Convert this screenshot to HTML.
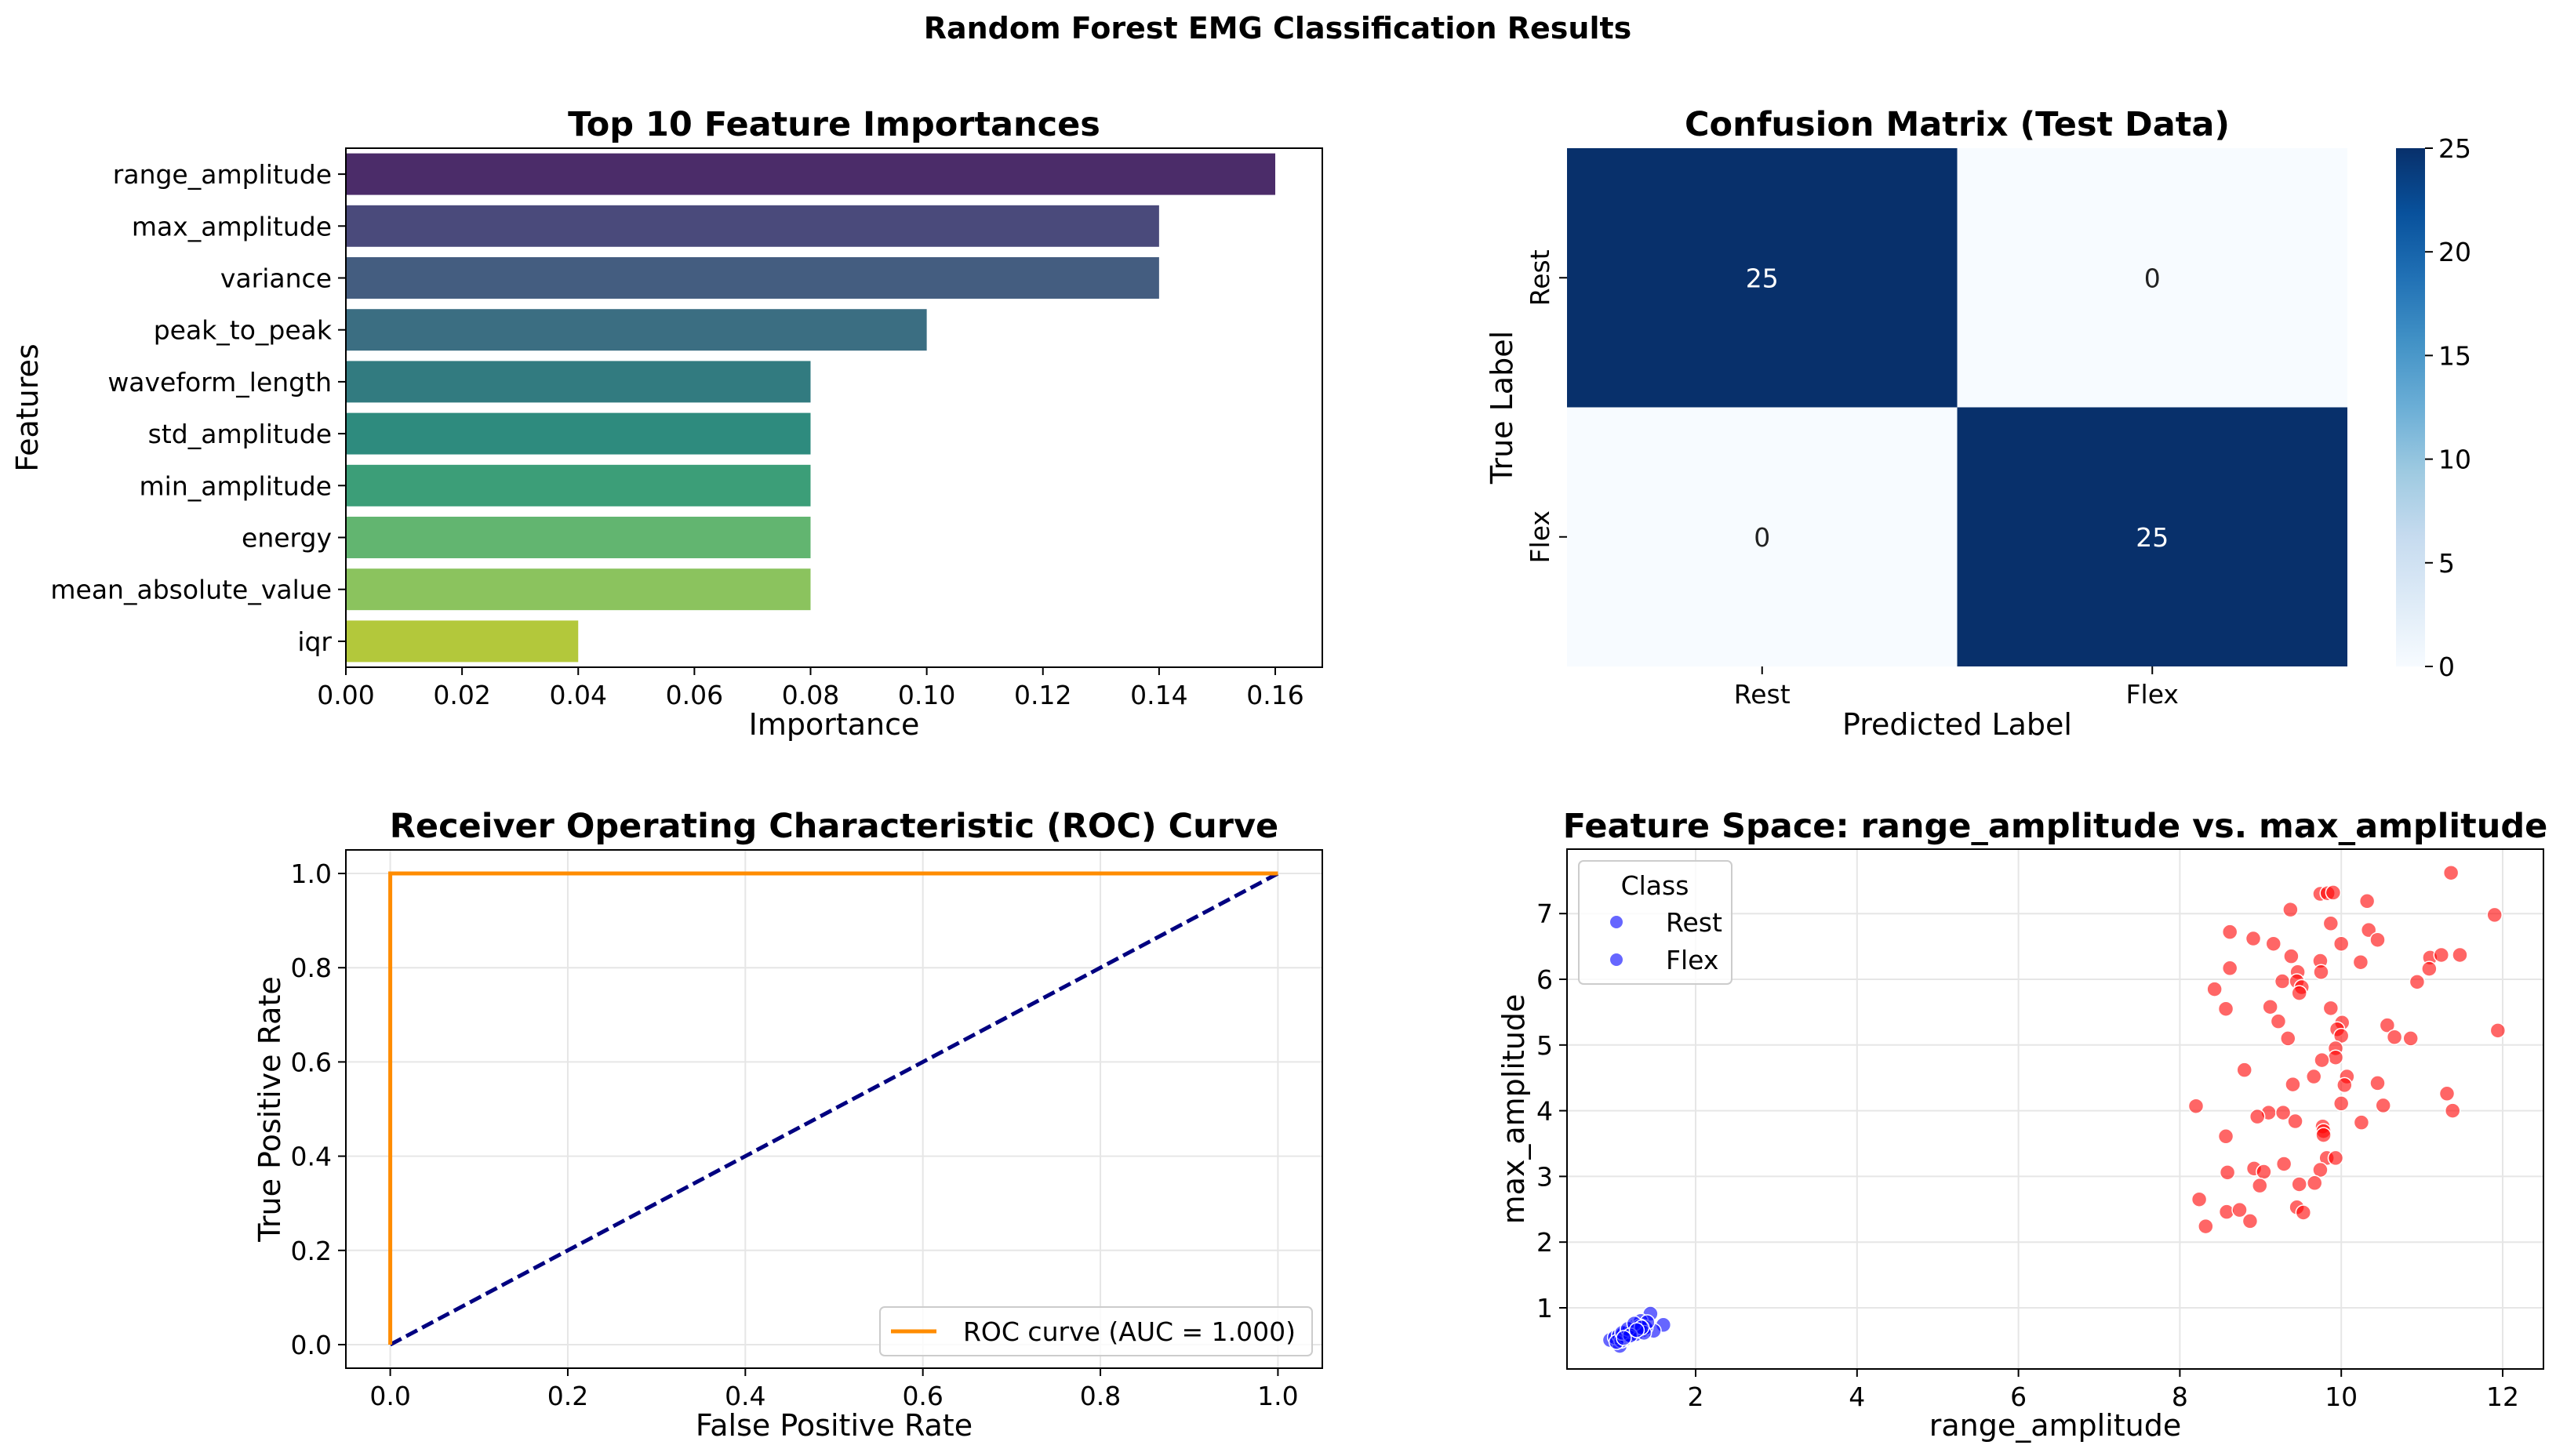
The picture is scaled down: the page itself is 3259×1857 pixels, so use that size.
<!DOCTYPE html>
<html><head><meta charset="utf-8">
<style>
html,body{margin:0;padding:0;background:#fff;}
svg{display:block;font-family:"DejaVu Sans","Liberation Sans",sans-serif;}
</style></head>
<body>
<svg id="fig" width="3259" height="1857" viewBox="0 0 3259 1857" xmlns="http://www.w3.org/2000/svg">
<rect width="3259" height="1857" fill="#fff"/>
<text x="1629" y="49" text-anchor="middle" font-size="38" font-weight="bold">Random Forest EMG Classification Results</text>
<g id="g1"></g>
<g id="g2"></g>
<g id="g3"></g>
<g id="g4"></g>
</svg>
<script>
const featureNames = ["range_amplitude","max_amplitude","variance","peak_to_peak","waveform_length","std_amplitude","min_amplitude","energy","mean_absolute_value","iqr"];
const importances = [0.16,0.14,0.14,0.10,0.08,0.08,0.08,0.08,0.08,0.04];
const importanceTicks = [0,0.02,0.04,0.06,0.08,0.10,0.12,0.14,0.16];
const barColors = ["#4b2c69","#4a4a7b","#445d80","#3b6e82","#327b80","#2e8b7e","#3c9e78","#62b570","#8bc35e","#b3c83b"];
const cmClasses = ["Rest","Flex"];
const cmValues = [[25,0],[0,25]];
const cbTicks = [0,5,10,15,20,25];
const rocFpr = [0,0,1];
const rocTpr = [0,1,1];
const rocTicks = [0,0.2,0.4,0.6,0.8,1.0];
const restX = [0.94,1.06,1.44,1.60,1.48,1.00,1.05,1.10,1.12,1.15,1.18,1.20,1.22,1.25,1.28,1.30,1.32,1.35,1.38,1.40,1.08,1.13,1.17,1.21,1.26,1.31,1.36,1.02,1.09,1.16,1.24,1.33,1.19,1.27,1.11];
const restY = [0.51,0.42,0.91,0.74,0.65,0.55,0.58,0.60,0.52,0.63,0.66,0.62,0.70,0.72,0.68,0.75,0.80,0.66,0.70,0.78,0.50,0.56,0.57,0.64,0.60,0.72,0.62,0.48,0.62,0.68,0.76,0.70,0.58,0.66,0.54];
const flexX = [11.36,9.74,9.83,9.90,10.32,11.90,9.37,9.87,8.62,10.34,8.91,9.16,10.00,10.45,9.38,9.74,10.24,11.10,11.24,11.47,8.62,9.46,9.75,11.09,9.27,9.45,10.94,8.43,9.51,9.48,8.57,9.12,9.87,9.22,10.01,10.57,9.95,10.00,11.94,9.34,10.66,10.86,9.93,9.93,9.76,8.80,9.66,10.07,9.40,10.04,10.45,11.31,8.20,10.00,10.52,9.10,9.28,8.96,11.38,9.43,10.25,9.77,9.78,9.78,8.57,9.29,9.82,9.93,8.92,9.04,9.74,8.59,8.99,9.48,9.67,8.24,9.45,9.53,8.58,8.74,8.87,8.32];
const flexY = [7.62,7.30,7.31,7.32,7.19,6.98,7.06,6.85,6.72,6.75,6.62,6.54,6.54,6.60,6.35,6.28,6.26,6.33,6.37,6.37,6.17,6.11,6.11,6.16,5.97,5.97,5.96,5.85,5.88,5.79,5.55,5.58,5.56,5.36,5.34,5.30,5.24,5.14,5.22,5.10,5.12,5.10,4.95,4.81,4.77,4.62,4.52,4.52,4.40,4.39,4.42,4.26,4.07,4.11,4.08,3.97,3.97,3.91,4.00,3.84,3.82,3.76,3.69,3.63,3.61,3.19,3.28,3.28,3.12,3.07,3.10,3.06,2.86,2.88,2.90,2.65,2.53,2.45,2.46,2.49,2.32,2.24];
const scatterXTicks = [2,4,6,8,10,12];
const scatterYTicks = [1,2,3,4,5,6,7];

const NS="http://www.w3.org/2000/svg";
const TF=33, LF=38, HF=43;
function mk(parent,tag,attrs,text){const e=document.createElementNS(NS,tag);for(const k in attrs)e.setAttribute(k,attrs[k]);if(text!==undefined)e.textContent=text;parent.appendChild(e);return e;}
function fmt2(v){return v.toFixed(2);}

// ---------- Chart 1: feature importance ----------
(function(){
const g=document.getElementById('g1');
const L=441,R=1686,T=189,B=851;
const x=v=>L+(v/0.16)*(1626-L);
const band=(B-T)/featureNames.length;
const yc=i=>T+(i+0.5)*band;
let t=mk(g,'text',{x:(L+R)/2,y:173,'text-anchor':'middle','font-size':HF,'font-weight':'bold'},'Top 10 Feature Importances');

importances.forEach((v,i)=>{
 const r=mk(g,'rect',{x:L,y:yc(i)-band*0.4,width:x(v)-L,height:band*0.8,fill:barColors[i]});
 
 
 const tk=mk(g,'line',{x1:L-10,x2:L,y1:yc(i),y2:yc(i),stroke:'#000','stroke-width':2});
 
 const lb=mk(g,'text',{x:L-18,y:yc(i)+12,'text-anchor':'end','font-size':TF},featureNames[i]);
 
});
importanceTicks.forEach(v=>{
 const tk=mk(g,'line',{x1:x(v),x2:x(v),y1:B,y2:B+10,stroke:'#000','stroke-width':2});
 
 const lb=mk(g,'text',{x:x(v),y:B+47,'text-anchor':'middle','font-size':TF},fmt2(v));
 
});
const fr=mk(g,'rect',{x:L,y:T,width:R-L,height:B-T,fill:'none',stroke:'#000','stroke-width':2});

t=mk(g,'text',{x:(L+R)/2,y:937,'text-anchor':'middle','font-size':LF},'Importance');

t=mk(g,'text',{x:0,y:0,'text-anchor':'middle','font-size':LF,transform:'translate(48,'+((T+B)/2)+') rotate(-90)'},'Features');

})();

// ---------- Chart 2: confusion matrix ----------
(function(){
const g=document.getElementById('g2');
const L=1998,R=2993,T=189,B=850;
const cw=(R-L)/2,ch=(B-T)/2;
function blues(f){const a=[247,251,255],b=[8,48,107];return 'rgb('+a.map((c,i)=>Math.round(c+(b[i]-c)*f)).join(',')+')';}
let t=mk(g,'text',{x:(L+R)/2,y:173,'text-anchor':'middle','font-size':HF,'font-weight':'bold'},'Confusion Matrix (Test Data)');

cmValues.forEach((row,i)=>row.forEach((v,j)=>{
 const c=mk(g,'rect',{x:L+j*cw,y:T+i*ch,width:cw,height:ch,fill:blues(v/25)});
 
 
 const a=mk(g,'text',{x:L+(j+0.5)*cw,y:T+(i+0.5)*ch+12,'text-anchor':'middle','font-size':TF,fill:v>12?'#fff':'#222'},String(v));
 
}));
cmClasses.forEach((c,k)=>{
 const tx=mk(g,'line',{x1:L+(k+0.5)*cw,x2:L+(k+0.5)*cw,y1:B,y2:B+10,stroke:'#000','stroke-width':2});
 
 let lb=mk(g,'text',{x:L+(k+0.5)*cw,y:B+47,'text-anchor':'middle','font-size':TF},c);
 
 const ty=mk(g,'line',{x1:L-10,x2:L,y1:T+(k+0.5)*ch,y2:T+(k+0.5)*ch,stroke:'#000','stroke-width':2});
 
 lb=mk(g,'text',{x:0,y:0,'text-anchor':'middle','font-size':TF,transform:'translate(1975,'+(T+(k+0.5)*ch)+') rotate(-90)'},c);
 
});
t=mk(g,'text',{x:(L+R)/2,y:937,'text-anchor':'middle','font-size':LF},'Predicted Label');

t=mk(g,'text',{x:0,y:0,'text-anchor':'middle','font-size':LF,transform:'translate(1928,'+((T+B)/2)+') rotate(-90)'},'True Label');

const CL=3055,CR=3092;
const defs=mk(g,'defs',{});
const gr=mk(defs,'linearGradient',{id:'bl',x1:0,y1:1,x2:0,y2:0});
[[0,'#f7fbff'],[0.125,'#deebf7'],[0.25,'#c6dbef'],[0.375,'#9ecae1'],[0.5,'#6baed6'],[0.625,'#4292c6'],[0.75,'#2171b5'],[0.875,'#08519c'],[1,'#08306b']].forEach(s=>mk(gr,'stop',{offset:s[0],'stop-color':s[1]}));
const cb=mk(g,'rect',{x:CL,y:T,width:CR-CL,height:B-T,fill:'url(#bl)'});

cbTicks.forEach(v=>{
 const y=B-(v/25)*(B-T);
 const tk=mk(g,'line',{x1:CR,x2:CR+10,y1:y,y2:y,stroke:'#000','stroke-width':2});
 
 const lb=mk(g,'text',{x:CR+17,y:y+12,'font-size':TF},String(v));
 
});
})();

// ---------- Chart 3: ROC ----------
(function(){
const g=document.getElementById('g3');
const L=441,R=1686,T=1084,B=1745;
const x=v=>L+(v+0.05)/1.1*(R-L);
const y=v=>B-(v+0.05)/1.1*(B-T);
let t=mk(g,'text',{x:(L+R)/2,y:1068,'text-anchor':'middle','font-size':HF,'font-weight':'bold'},'Receiver Operating Characteristic (ROC) Curve');

rocTicks.forEach(v=>{
 let gl=mk(g,'line',{x1:x(v),x2:x(v),y1:T,y2:B,stroke:'#e6e6e6','stroke-width':2});
 
 gl=mk(g,'line',{x1:L,x2:R,y1:y(v),y2:y(v),stroke:'#e6e6e6','stroke-width':2});
 
 let tk=mk(g,'line',{x1:x(v),x2:x(v),y1:B,y2:B+10,stroke:'#000','stroke-width':2});
 
 let lb=mk(g,'text',{x:x(v),y:B+47,'text-anchor':'middle','font-size':TF},v.toFixed(1));
 
 tk=mk(g,'line',{x1:L-10,x2:L,y1:y(v),y2:y(v),stroke:'#000','stroke-width':2});
 
 lb=mk(g,'text',{x:L-18,y:y(v)+12,'text-anchor':'end','font-size':TF},v.toFixed(1));
 
});
const diag=mk(g,'line',{x1:x(0),y1:y(0),x2:x(1),y2:y(1),stroke:'#000080','stroke-width':5,'stroke-dasharray':'16,7'});

const pts=rocFpr.map((f,i)=>x(f)+','+y(rocTpr[i])).join(' ');
const roc=mk(g,'polyline',{points:pts,fill:'none',stroke:'#ff8c00','stroke-width':5});

const fr=mk(g,'rect',{x:L,y:T,width:R-L,height:B-T,fill:'none',stroke:'#000','stroke-width':2});

const lg=mk(g,'g',{});

mk(lg,'rect',{x:1122,y:1667,width:551,height:62,rx:6,fill:'#fff','fill-opacity':0.8,stroke:'#ccc','stroke-width':2});
mk(lg,'line',{x1:1136,x2:1194,y1:1698,y2:1698,stroke:'#ff8c00','stroke-width':5});
t=mk(lg,'text',{x:1228,y:1710,'font-size':TF},'ROC curve (AUC = 1.000)');

t=mk(g,'text',{x:(L+R)/2,y:1831,'text-anchor':'middle','font-size':LF},'False Positive Rate');

t=mk(g,'text',{x:0,y:0,'text-anchor':'middle','font-size':LF,transform:'translate(357,'+((T+B)/2)+') rotate(-90)'},'True Positive Rate');

})();

// ---------- Chart 4: feature space scatter ----------
(function(){
const g=document.getElementById('g4');
const L=1998,R=3243,T=1083,B=1746;
const x=v=>2162+(v-2)*102.9;
const y=v=>1668-(v-1)*83.8;
let t=mk(g,'text',{x:(L+R)/2,y:1068,'text-anchor':'middle','font-size':HF,'font-weight':'bold'},'Feature Space: range_amplitude vs. max_amplitude');

scatterXTicks.forEach(v=>{
 const gl=mk(g,'line',{x1:x(v),x2:x(v),y1:T,y2:B,stroke:'#e6e6e6','stroke-width':2});
 
 const tk=mk(g,'line',{x1:x(v),x2:x(v),y1:B,y2:B+10,stroke:'#000','stroke-width':2});
 
 const lb=mk(g,'text',{x:x(v),y:B+47,'text-anchor':'middle','font-size':TF},String(v));
 
});
scatterYTicks.forEach(v=>{
 const gl=mk(g,'line',{x1:L,x2:R,y1:y(v),y2:y(v),stroke:'#e6e6e6','stroke-width':2});
 
 const tk=mk(g,'line',{x1:L-10,x2:L,y1:y(v),y2:y(v),stroke:'#000','stroke-width':2});
 
 const lb=mk(g,'text',{x:L-18,y:y(v)+12,'text-anchor':'end','font-size':TF},String(v));
 
});
flexX.forEach((v,i)=>{
 const c=mk(g,'circle',{cx:x(v),cy:y(flexY[i]),r:9.5,fill:'#ff0000','fill-opacity':0.6,stroke:'#fff','stroke-width':1.5});
 
});
restX.forEach((v,i)=>{
 const c=mk(g,'circle',{cx:x(v),cy:y(restY[i]),r:9.5,fill:'#0000ff','fill-opacity':0.6,stroke:'#fff','stroke-width':1.5});
 
});
const fr=mk(g,'rect',{x:L,y:T,width:R-L,height:B-T,fill:'none',stroke:'#000','stroke-width':2});

const lg=mk(g,'g',{});

mk(lg,'rect',{x:2013,y:1098,width:195,height:157,rx:6,fill:'#fff','fill-opacity':0.8,stroke:'#ccc','stroke-width':2});
t=mk(lg,'text',{x:2110,y:1141,'text-anchor':'middle','font-size':TF},'Class');

[['Rest',1188],['Flex',1236]].forEach(e=>{
 mk(lg,'circle',{cx:2061,cy:e[1]-12,r:8,fill:'#0000ff','fill-opacity':0.6});
 const tt=mk(lg,'text',{x:2124,y:e[1],'font-size':TF},e[0]);
 
});
t=mk(g,'text',{x:(L+R)/2,y:1831,'text-anchor':'middle','font-size':LF},'range_amplitude');

t=mk(g,'text',{x:0,y:0,'text-anchor':'middle','font-size':LF,transform:'translate(1943,'+((T+B)/2)+') rotate(-90)'},'max_amplitude');

})();
</script>
</body></html>
